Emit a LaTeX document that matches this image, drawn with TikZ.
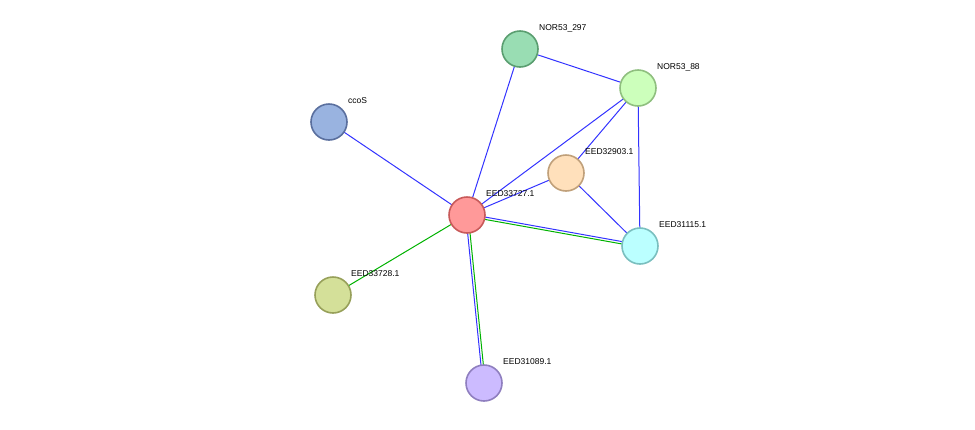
\documentclass[tikz,border=0pt]{standalone}
\usepackage{fontspec}
\setmainfont{Liberation Sans}
\begin{document}
\begin{tikzpicture}[x=1pt,y=-1pt,
  prot/.style={circle,minimum size=36pt,inner sep=0pt,line width=1.6pt},
  lbl/.style={anchor=west,font=\fontsize{8.5}{10}\selectfont,inner sep=0pt},
  be/.style={draw=blue!80!white,line width=1pt},
  ge/.style={draw=green!70!black,line width=1pt}]
\useasboundingbox (0,0) rectangle (975,429);
\definecolor{r1}{HTML}{FF9999}\definecolor{r2}{HTML}{C85A5A}
\definecolor{a1}{HTML}{99DDB3}\definecolor{a2}{HTML}{5A9E70}
\definecolor{b1}{HTML}{CCFFBB}\definecolor{b2}{HTML}{8FBF7F}
\definecolor{c1}{HTML}{99B3E0}\definecolor{c2}{HTML}{5A6F9E}
\definecolor{d1}{HTML}{FFE0BB}\definecolor{d2}{HTML}{C0A07A}
\definecolor{e1}{HTML}{BBFFFF}\definecolor{e2}{HTML}{7ABFBF}
\definecolor{f1}{HTML}{D4E099}\definecolor{f2}{HTML}{97A05A}
\definecolor{g1}{HTML}{CCBBFF}\definecolor{g2}{HTML}{8F7FBF}
\coordinate (pm) at (467,215);
\coordinate (pa) at (520,49);
\coordinate (pb) at (638,88);
\coordinate (pc) at (329,122);
\coordinate (pd) at (566,173);
\coordinate (pe) at (640,246);
\coordinate (pf) at (333,295);
\coordinate (pg) at (484,383);
% edges
\draw[be] (pm)--(pa); \draw[be] (pm)--(pb); \draw[be] (pm)--(pc); \draw[be] (pm)--(pd);
\draw[be] (pa)--(pb); \draw[be] (pb)--(pd); \draw[be] (pb)--(pe); \draw[be] (pd)--(pe);
\draw[ge] (pm)--(pf);
\draw[ge,transform canvas={yshift=-1.2pt}] (pm)--(pe);
\draw[be,transform canvas={yshift=1.2pt}] (pm)--(pe);
\draw[ge,transform canvas={xshift=1.2pt}] (pm)--(pg);
\draw[be,transform canvas={xshift=-1.2pt}] (pm)--(pg);
% nodes
\node[prot,fill=a1,draw=a2] (a) at (pa) {};
\node[prot,fill=b1,draw=b2] (b) at (pb) {};
\node[prot,fill=c1,draw=c2] (c) at (pc) {};
\node[prot,fill=d1,draw=d2] (d) at (pd) {};
\node[prot,fill=e1,draw=e2] (e) at (pe) {};
\node[prot,fill=f1,draw=f2] (f) at (pf) {};
\node[prot,fill=g1,draw=g2] (g) at (pg) {};
\node[prot,fill=r1,draw=r2] (m) at (pm) {};
\node[lbl] (la) at (539,28) {NOR53\_297};
\node[lbl] (lb) at (657,67) {NOR53\_88};
\node[lbl] (lc) at (348,101) {ccoS};
\node[lbl] (ld) at (585,152) {EED32903.1};
\node[lbl] (le) at (659,225) {EED31115.1};
\node[lbl] (lf) at (351,274) {EED33728.1};
\node[lbl] (lg) at (503,362) {EED31089.1};
\node[lbl] (lm) at (486,194) {EED33727.1};
\end{tikzpicture}
\end{document}
